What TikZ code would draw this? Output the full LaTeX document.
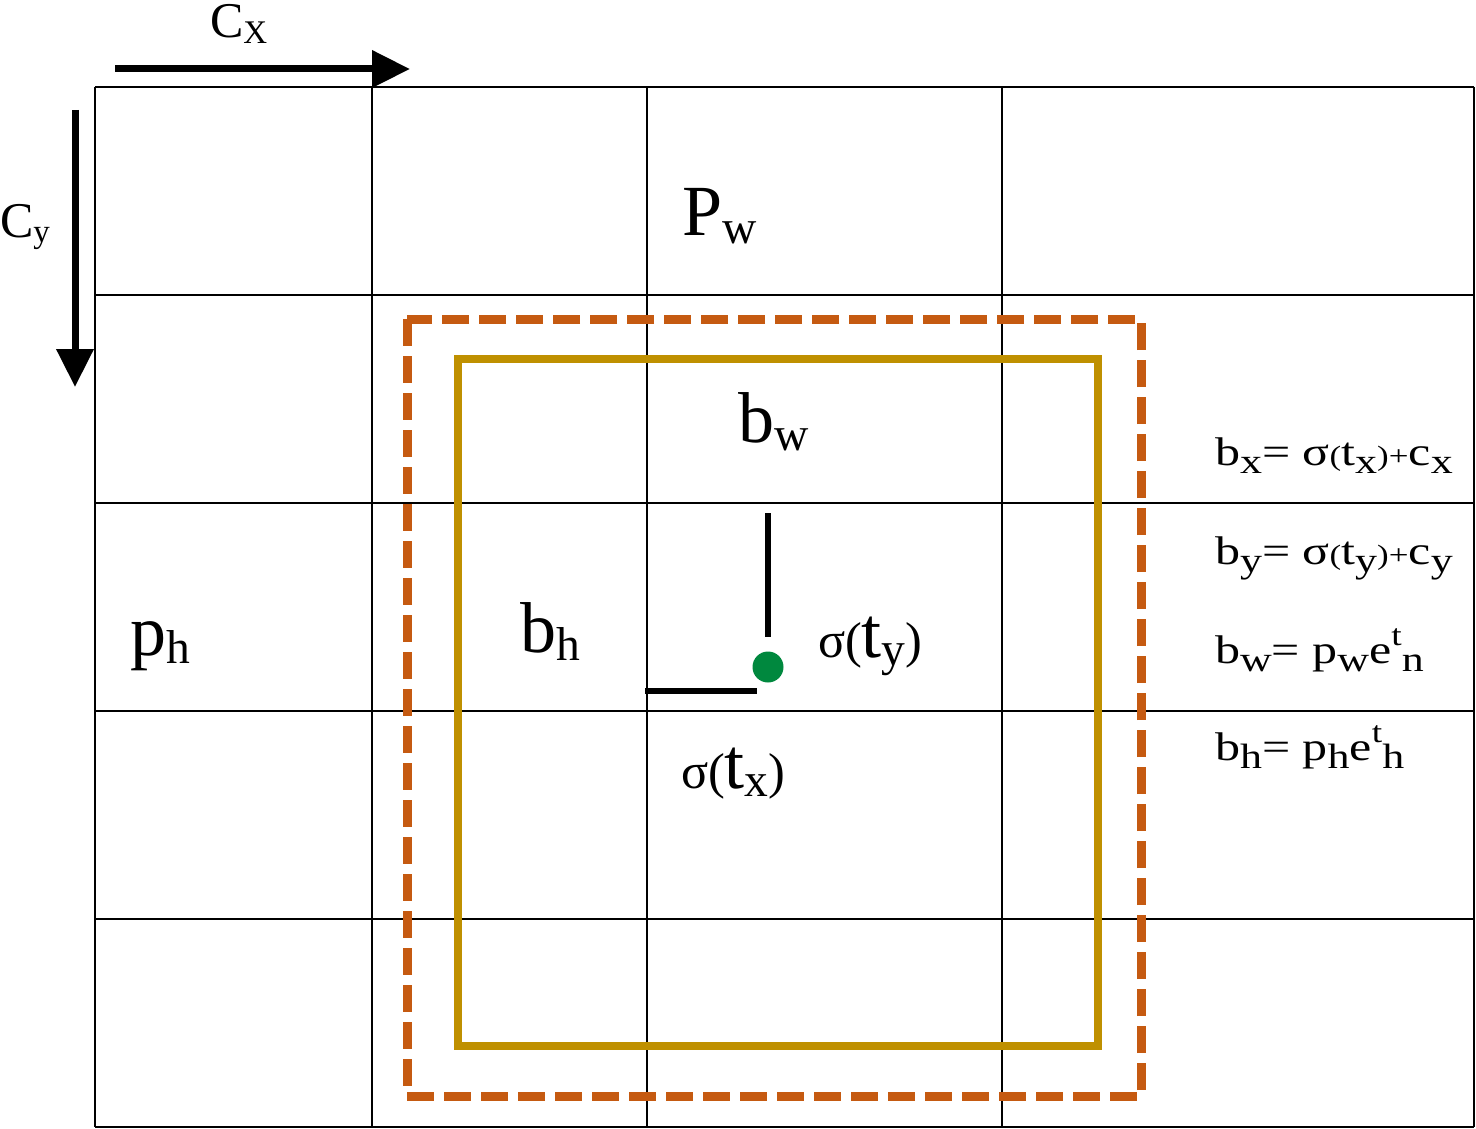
\documentclass[tikz,border=0pt]{standalone}
\usepackage{fontspec}
\setmainfont{Liberation Serif}
\usetikzlibrary{arrows.meta}
\definecolor{dashorange}{RGB}{197,90,17}
\definecolor{boxgold}{RGB}{191,144,0}
\definecolor{dotgreen}{RGB}{0,136,62}
\newcommand{\Sub}[1]{\raisebox{-0.12em}{\scalebox{0.66}{#1}}}
\newcommand{\ESub}[1]{\raisebox{-0.22em}{\scalebox{0.88}{#1}}}
\newcommand{\Sml}[1]{\scalebox{0.7}{#1}}
\newcommand{\ESup}[1]{\raisebox{0.45em}{\scalebox{0.75}{#1}}}
\newcommand{\Wide}[1]{\scalebox{1.25}[1]{#1}}
\begin{document}
\begin{tikzpicture}[x=1pt,y=-1pt,
  gridline/.style={line width=2pt,black},
  bigarrow/.style={line width=7pt,-{Triangle[length=38pt,width=36pt]}},
  lbl/.style={anchor=base west,inner sep=0pt,outer sep=0pt},
  biglbl/.style={lbl,font=\fontsize{72}{80}\selectfont},
  eqlbl/.style={lbl,font=\fontsize{40}{44}\selectfont},
  axlbl/.style={lbl,font=\fontsize{50}{56}\selectfont}]
\useasboundingbox (0,0) rectangle (1476,1129);
% grid
\foreach \x in {95,372,647,1002,1474} \draw[gridline] (\x,87) -- (\x,1127);
\foreach \y in {87,295,503,711,919,1127} \draw[gridline] (95,\y) -- (1474,\y);
% boxes
\draw[dashorange,line width=9pt,dash pattern=on 27pt off 10pt] (407,319) rectangle (1141,1096);
\draw[boxgold,line width=8pt] (458,359) rectangle (1098,1046);
% axis arrows
\coordinate (cxs) at (115,69);
\coordinate (cxe) at (410,69);
\coordinate (cys) at (75,110);
\coordinate (cye) at (75,387);
\draw[bigarrow] (cxs) -- (cxe);
\draw[bigarrow] (cys) -- (cye);
\node[axlbl] (cx) at (210,38) {C\Sub{X}};
\node[axlbl] (cy) at (0,237) {C\Sub{y}};
% labels
\node[biglbl] (pw) at (682,235) {P\Sub{w}};
\node[biglbl] (bw) at (738,442) {b\Sub{w}};
\node[biglbl] (ph) at (130,655) {p\Sub{h}};
\node[biglbl] (bh) at (520,652) {b\Sub{h}};
\node[biglbl] (sty) at (818,657) {\Sml{σ(}t\Sub{y}\Sml{)}};
\node[biglbl] (stx) at (681,788) {\Sml{σ(}t\Sub{x}\Sml{)}};
% offset lines and centre
\coordinate (vt) at (768,513);
\coordinate (vb) at (768,637);
\coordinate (hl) at (645,691);
\coordinate (hr) at (757,691);
\draw[line width=6pt] (vt) -- (vb);
\draw[line width=6pt] (hl) -- (hr);
\node[circle,fill=dotgreen,minimum width=31pt,minimum height=28pt,inner sep=0pt] (ctr) at (768,667) {};
% equations
\node[eqlbl] (eqx) at (1215,465) {\Wide{b\ESub{x}= σ\Sml{(}t\ESub{x}\Sml{)+}c\ESub{x}}};
\node[eqlbl] (eqy) at (1215,564) {\Wide{b\ESub{y}= σ\Sml{(}t\ESub{y}\Sml{)+}c\ESub{y}}};
\node[eqlbl] (eqw) at (1215,663) {\Wide{b\ESub{w}= p\ESub{w}e\ESup{t}\ESub{n}}};
\node[eqlbl] (eqh) at (1215,760) {\Wide{b\ESub{h}= p\ESub{h}e\ESup{t}\ESub{h}}};
\end{tikzpicture}
\end{document}
